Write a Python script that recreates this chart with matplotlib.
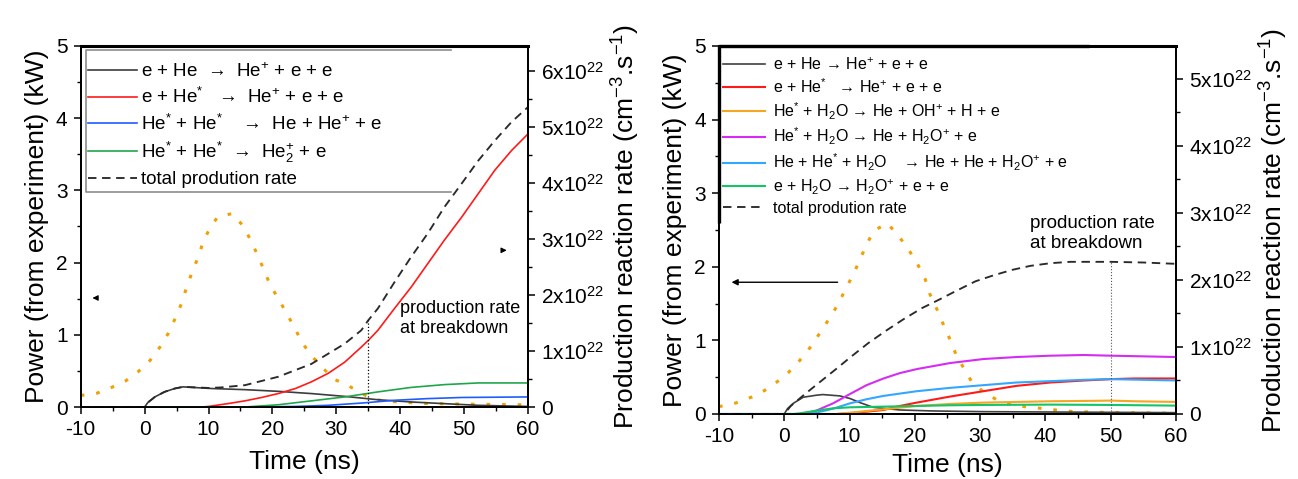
import numpy as np
import matplotlib.pyplot as plt
from matplotlib.ticker import MultipleLocator, FuncFormatter

plt.rcParams['font.family'] = ['Liberation Sans', 'DejaVu Sans']
plt.rcParams['mathtext.default'] = 'regular'
plt.rcParams['axes.unicode_minus'] = False

# ---------------- He case (left) ----------------
t_power_he = [-10, -7.5, -5.2, -3.0, -1.0, 0.8, 2.4, 3.7, 4.8, 5.8, 6.5, 7.4, 8.3, 9.1, 10.1, 11.4,
              13.7, 15.5, 16.7, 17.8, 18.7, 19.7, 21.0, 22.2, 23.4, 24.6, 26.0, 27.7, 29.5, 31.8,
              33.9, 35.5, 37.0, 39.6, 41.7, 43.8, 50, 60]
power_he = [0.16, 0.19, 0.27, 0.36, 0.49, 0.64, 0.83, 1.02, 1.23, 1.44, 1.64, 1.86, 2.06, 2.27, 2.46, 2.63,
            2.68, 2.50, 2.29, 2.08, 1.89, 1.68, 1.49, 1.30, 1.11, 0.90, 0.72, 0.56, 0.39, 0.30,
            0.19, 0.12, 0.09, 0.07, 0.06, 0.05, 0.04, 0.03]

t_ehe_he = [-10, 0, 0.5, 1.6, 3.1, 4.7, 6.0, 10.5, 15.7, 20.9, 26.1, 31.3, 36.5, 41.7, 46.9, 52.2, 60]
ehe_he = [0, 0, 0.08, 0.18, 0.27, 0.33, 0.36, 0.33, 0.31, 0.28, 0.24, 0.19, 0.13, 0.09, 0.06, 0.03, 0.01]

t_ehes_he = [9, 10, 13, 15.7, 18.3, 20.9, 23.6, 26.1, 28.7, 31.3, 33.9, 35, 36.5, 39.1, 41.7, 44.3,
             46.9, 49.6, 52.2, 54.8, 57.4, 60]
ehes_he = [0, 0.01, 0.06, 0.11, 0.17, 0.24, 0.33, 0.45, 0.60, 0.80, 1.07, 1.19, 1.37, 1.76, 2.14, 2.56,
           2.98, 3.39, 3.81, 4.23, 4.58, 4.88]

t_pen_he = [15, 20, 23.6, 28.7, 33.9, 39.1, 44.3, 49.6, 60]
pen_he = [0, 0.005, 0.01, 0.03, 0.07, 0.12, 0.15, 0.17, 0.18]

t_dim_he = [-10, 15.7, 20.9, 26.1, 31.3, 36.5, 41.7, 46.9, 52.2, 60]
dim_he = [0, 0, 0.04, 0.11, 0.18, 0.27, 0.35, 0.40, 0.43, 0.43]

t_total_he = [-10, 0, 0.5, 1.6, 3.1, 4.7, 6.0, 10.0, 12.0, 15.7, 20.9, 26.1, 28.7, 31.3, 33.9, 35,
              36.5, 39.1, 41.7, 44.3, 46.9, 49.6, 52.2, 54.8, 57.4, 60]
total_he = [0, 0, 0.08, 0.18, 0.27, 0.33, 0.36, 0.34, 0.35, 0.39, 0.54, 0.77, 0.95, 1.13, 1.37, 1.55,
            1.76, 2.23, 2.68, 3.10, 3.57, 3.99, 4.40, 4.76, 5.09, 5.36]
breakdown_he = 35

# ---------------- He + H2O case (right) ----------------
t_power_w = [-10, -7.4, -5.0, -3.0, -1.2, 0.6, 2.4, 4.2, 5.6, 7.0, 8.3, 9.4, 10.6, 11.6, 12.6, 13.7,
             15.8, 17.5, 19.0, 20.4, 21.6, 22.3, 23.4, 24.4, 25.4, 26.3, 27.5, 28.7, 30.5, 32.8,
             35.1, 37.7, 40.3, 42.8, 45.4, 50, 60]
power_w = [0.10, 0.15, 0.23, 0.32, 0.43, 0.56, 0.73, 0.93, 1.12, 1.31, 1.50, 1.70, 1.90, 2.10, 2.30, 2.49,
           2.59, 2.42, 2.24, 2.04, 1.83, 1.63, 1.42, 1.21, 1.01, 0.81, 0.62, 0.44, 0.30, 0.18,
           0.12, 0.09, 0.07, 0.04, 0.03, 0.02, 0.01]

t_ehe_w = [-10, 0, 0.5, 1.4, 2.9, 4.9, 5.9, 8.5, 10.1, 11.6, 13.6, 17.7, 22.9, 30.5, 40, 60]
ehe_w = [0, 0, 0.08, 0.16, 0.25, 0.28, 0.29, 0.27, 0.23, 0.17, 0.10, 0.06, 0.045, 0.035, 0.03, 0.02]

t_ehes_w = [8, 10.1, 15.2, 17.7, 20.3, 25.4, 30.5, 35.6, 40.8, 45.9, 50, 53.6, 60]
ehes_w = [0, 0.01, 0.06, 0.12, 0.17, 0.26, 0.34, 0.42, 0.47, 0.50, 0.52, 0.53, 0.53]

t_oh_w = [8, 10.1, 15.2, 20.3, 25.4, 30.5, 35.6, 40.8, 45.9, 50, 53.6, 60]
oh_w = [0, 0.02, 0.07, 0.12, 0.15, 0.17, 0.18, 0.19, 0.195, 0.20, 0.19, 0.18]

t_pen_w = [-10, 3, 4.9, 7.5, 10.1, 12.6, 15.2, 17.7, 20.3, 25.4, 30.5, 35.6, 40.8, 45.9, 50, 60]
pen_w = [0, 0, 0.05, 0.16, 0.30, 0.43, 0.53, 0.61, 0.67, 0.76, 0.82, 0.85, 0.87, 0.88, 0.87, 0.85]

t_three_w = [-10, 3, 4.9, 7.5, 10.1, 12.6, 15.2, 20.3, 25.4, 30.5, 35.6, 40.8, 45.9, 50, 60]
three_w = [0, 0, 0.02, 0.08, 0.16, 0.22, 0.27, 0.34, 0.39, 0.43, 0.47, 0.49, 0.51, 0.52, 0.50]

t_eh2o_w = [-10, 1.5, 2.4, 4.9, 7.5, 10.1, 15.2, 20.3, 25.4, 30.5, 40.8, 50, 60]
eh2o_w = [0, 0, 0.01, 0.05, 0.085, 0.10, 0.11, 0.12, 0.13, 0.135, 0.14, 0.135, 0.125]

t_total_w = [-10, 0, 1.0, 3.2, 5.5, 7.8, 10.3, 12.9, 15.7, 18.2, 21.1, 23.6, 26.4, 29.3, 32.1, 34.9,
             37.7, 40.8, 43.8, 50, 55, 60]
total_w = [0, 0, 0.12, 0.30, 0.48, 0.66, 0.86, 1.06, 1.25, 1.41, 1.58, 1.70, 1.84, 1.98, 2.07, 2.15,
           2.21, 2.25, 2.27, 2.27, 2.26, 2.24]
breakdown_w = 50

labels_he = ['e + He  →  He$^{+}$ + e + e',
             'e + He$^{*}$   →  He$^{+}$ + e + e',
             'He$^{*}$ + He$^{*}$    →  He + He$^{+}$ + e',
             'He$^{*}$ + He$^{*}$  →  He$_2^{+}$ + e',
             'total prodution rate']
labels_w = ['e + He → He$^{+}$ + e + e',
            'e + He$^{*}$   → He$^{+}$ + e + e',
            'He$^{*}$ + H$_2$O → He + OH$^{+}$ + H + e',
            'He$^{*}$ + H$_2$O → He + H$_2$O$^{+}$ + e',
            'He + He$^{*}$ + H$_2$O    → He + He + H$_2$O$^{+}$ + e',
            'e + H$_2$O → H$_2$O$^{+}$ + e + e',
            'total prodution rate']

dot_color = '#f0a000'
dot_style = dict(color=dot_color, lw=2.2, dashes=(1.2, 3.9), dash_capstyle='butt')
dash_style = dict(color='#2a2a2a', lw=1.35, dashes=(4.5, 3))


def rate_fmt(v, pos):
    if abs(v) < 1e-9:
        return '0'
    return '%dx10$^{22}$' % round(v)


def setup_axes(ax, ax2, rate_max, xpad):
    ax.set_xlim(-10, 60)
    ax.set_ylim(0, 5)
    ax2.set_ylim(0, rate_max)
    ax.xaxis.set_major_locator(MultipleLocator(10))
    ax.xaxis.set_minor_locator(MultipleLocator(5))
    ax.yaxis.set_major_locator(MultipleLocator(1))
    ax.yaxis.set_minor_locator(MultipleLocator(0.5))
    ax2.yaxis.set_major_locator(MultipleLocator(1))
    ax2.yaxis.set_minor_locator(MultipleLocator(0.5))
    ax2.yaxis.set_major_formatter(FuncFormatter(rate_fmt))
    for a in (ax, ax2):
        a.tick_params(which='major', direction='out', length=5, width=1.1, labelsize=15, pad=4.5)
        a.tick_params(which='minor', direction='out', length=3, width=1.0)
        for s in a.spines.values():
            s.set_linewidth(1.3)
    ax.spines['top'].set_linewidth(2.2)
    ax.set_xlabel('Time (ns)', fontsize=19, labelpad=xpad)
    ax.set_ylabel('Power (from experiment) (kW)', fontsize=19, labelpad=5)
    ax2.set_ylabel('Production reaction rate (cm$^{-3}$.s$^{-1}$)', fontsize=19,
                   rotation=90, labelpad=4)


fig = plt.figure(figsize=(12.98, 4.79), dpi=100)

# left panel: pure He
ax = fig.add_axes([0.0622, 0.1503, 0.3446, 0.7537])
ax2 = ax.twinx()
setup_axes(ax, ax2, 6.45, 8)
ax.plot(t_power_he, power_he, **dot_style)
ax2.plot(t_ehe_he, ehe_he, color='#3c3c3c', lw=1.2, label=labels_he[0])
ax2.plot(t_ehes_he, ehes_he, color='#ff1a1a', lw=1.2, label=labels_he[1])
ax2.plot(t_pen_he, pen_he, color='#1f5cff', lw=1.2, label=labels_he[2])
ax2.plot(t_dim_he, dim_he, color='#1fa64a', lw=1.2, label=labels_he[3])
ax2.plot(t_total_he, total_he, label=labels_he[4], **dash_style)
ax2.plot([breakdown_he, breakdown_he], [0, np.interp(breakdown_he, t_total_he, total_he)],
         color='black', lw=0.9, ls=':')
ax2.legend(loc='upper left', bbox_to_anchor=(0.016, 0.955), frameon=False, fontsize=13.5,
           handlelength=2.6, handletextpad=0.25, labelspacing=0.33, borderpad=0, borderaxespad=0)
# grey legend box (no right edge)
ax.plot([0.828, 0.012, 0.012, 0.828], [0.989, 0.989, 0.596, 0.596], transform=ax.transAxes,
        color='#8c8c8c', lw=1.2, clip_on=False)
ax.text(40, 1.23, 'production rate\nat breakdown', fontsize=13, ha='left', va='center',
        linespacing=1.25)
ax.annotate('', xy=(-8.6, 1.51), xytext=(-7.0, 1.51),
            arrowprops=dict(arrowstyle='-|>', color='black', lw=0.8, mutation_scale=8))
ax.annotate('', xy=(57.1, 2.17), xytext=(55.5, 2.17),
            arrowprops=dict(arrowstyle='-|>', color='black', lw=0.8, mutation_scale=8))

# right panel: He + H2O
bx = fig.add_axes([0.5539, 0.1357, 0.3521, 0.7683])
bx2 = bx.twinx()
setup_axes(bx, bx2, 5.49, 5)
bx.plot(t_power_w, power_w, **dot_style)
bx2.plot(t_ehe_w, ehe_w, color='#404040', lw=1.2, label=labels_w[0])
bx2.plot(t_ehes_w, ehes_w, color='#ff1a1a', lw=1.5, label=labels_w[1])
bx2.plot(t_oh_w, oh_w, color='#f5a623', lw=1.5, label=labels_w[2])
bx2.plot(t_pen_w, pen_w, color='#d42cf2', lw=1.5, label=labels_w[3])
bx2.plot(t_three_w, three_w, color='#33a6ff', lw=1.5, label=labels_w[4])
bx2.plot(t_eh2o_w, eh2o_w, color='#14c46a', lw=1.5, label=labels_w[5])
bx2.plot(t_total_w, total_w, label=labels_w[6], **dash_style)
bx2.plot([breakdown_w, breakdown_w], [0, np.interp(breakdown_w, t_total_w, total_w)],
         color='#555555', lw=0.8, ls=':')
bx2.legend(loc='upper left', bbox_to_anchor=(0.009, 0.972), frameon=False, fontsize=11.5,
           handlelength=2.6, handletextpad=0.5, labelspacing=0.27, borderpad=0, borderaxespad=0)
# legend frame merges with the top and left spines
bx.plot([0.81, 0.0, 0.0], [1.0, 1.0, 0.52], transform=bx.transAxes, color='black', lw=2.4,
        clip_on=False, solid_capstyle='butt')
bx.text(37.6, 2.45, 'production rate\nat breakdown', fontsize=13.5, ha='left', va='center',
        linespacing=1.25)
bx.annotate('', xy=(-8.5, 1.79), xytext=(8.6, 1.79),
            arrowprops=dict(arrowstyle='-|>', color='black', lw=1.0, mutation_scale=9))

fig.savefig('out.png', dpi=100)
